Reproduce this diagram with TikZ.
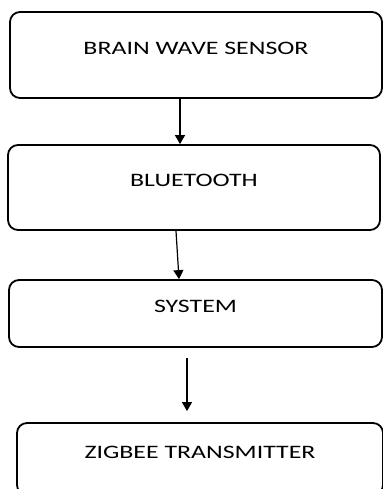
\documentclass[tikz,border=0pt]{standalone}
\usepackage{fontspec}
\usepackage{tikz}
\usetikzlibrary{arrows.meta}
\newfontfamily\blockfont[FakeStretch=1.36]{Carlito}

\begin{document}
\begin{tikzpicture}[
    x=0.5pt, y=-0.5pt,
    every node/.style={draw, rounded corners=5pt, line width=0.9pt, align=center, font=\blockfont\fontsize{9.5}{11}\selectfont, text height=6.2pt, text depth=7pt},
    blk/.style={minimum width=186pt, minimum height=43pt},
    arr/.style={-{Triangle[width=5pt,length=4.5pt]}, line width=0.6pt}
]
    \clip (0,0) rectangle (383,489);

    % Blocks (top to bottom)
    \node[blk] (BWS) at (196,55) {BRAIN WAVE SENSOR};
    \node[blk, minimum height=42.5pt] (BT) at (194,187.5) {BLUETOOTH};
    \node[blk, minimum width=186.5pt, minimum height=33.5pt] (SYS) at (195.5,313.5) {SYSTEM};
    \node[blk, minimum width=183pt, minimum height=36pt] (ZT) at (200,459) {ZIGBEE TRANSMITTER};

    % Arrows between blocks
    \draw[arr] ([xshift=-8pt]BWS.south) -- ([xshift=-7pt]BT.north);
    \draw[arr] ([xshift=-9pt]BT.south) -- ([xshift=-8.25pt]SYS.north);
    \draw[arr, shorten <=5pt, shorten >=5.5pt] ([xshift=-4.25pt]SYS.south) -- ([xshift=-6.5pt]ZT.north);
\end{tikzpicture}
\end{document}
